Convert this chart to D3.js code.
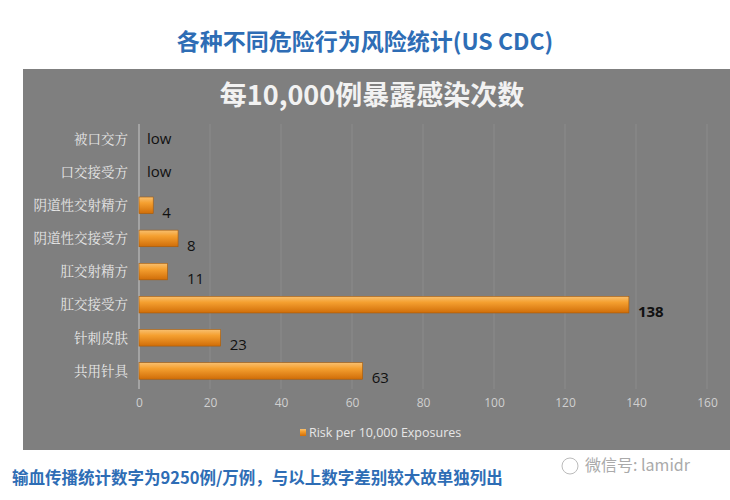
<!DOCTYPE html>
<html><head><meta charset="utf-8">
<script src="https://cdn.jsdelivr.net/npm/d3@7"></script>
<style>body{margin:0;background:#fff}</style></head>
<body><svg id="c" width="730" height="500"></svg>
<script>
const categories=["被口交方","口交接受方","阴道性交射精方","阴道性交接受方","肛交射精方","肛交接受方","针刺皮肤","共用针具"];
const values=[0,0,4,11,8,138,23,63];
const labelValues=[0,0,4,8,11,138,23,63];
const valueLabels=["low","low","4","8","11","138","23","63"];
const ticks=[0,20,40,60,80,100,120,140,160];
const svg=d3.select("#c");
const defs=svg.append("defs");
const g=defs.append("linearGradient").attr("id","bg").attr("x1",0).attr("y1",0).attr("x2",0).attr("y2",1);
g.append("stop").attr("offset","0").attr("stop-color","#f8c070");
g.append("stop").attr("offset","0.35").attr("stop-color","#f5a030");
g.append("stop").attr("offset","1").attr("stop-color","#d06d08");
svg.append("text").attr("x",365).attr("y",50).attr("text-anchor","middle")
 .attr("font-family","Noto Sans CJK SC").attr("font-weight","bold").attr("font-size",23).attr("fill","#2e6db5")
 .text("各种不同危险行为风险统计(US CDC)");
svg.append("rect").attr("x",23).attr("y",69).attr("width",707).attr("height",381).attr("fill","#7f7f7f");
svg.append("text").attr("x",372).attr("y",105).attr("text-anchor","middle")
 .attr("font-family","Noto Sans CJK SC").attr("font-weight","bold").attr("font-size",27).attr("fill","#f2f2f2").text("每10,000例暴露感染次数");
const x=d3.scaleLinear().domain([0,160]).range([139,707]);
const y=d3.scaleBand().domain(categories).range([122.5,387.5]).paddingInner(0.5).paddingOuter(0.25);
svg.append("g").selectAll("line").data(ticks.slice(1)).join("line")
 .attr("x1",d=>x(d)).attr("x2",d=>x(d)).attr("y1",124).attr("y2",389).attr("stroke","#8c8c8c");
svg.append("line").attr("x1",x(0)).attr("x2",x(0)).attr("y1",124).attr("y2",389).attr("stroke","#c8c8c8");
const ax=svg.append("g").attr("transform","translate(0,399)").call(d3.axisBottom(x).tickValues(ticks).tickSize(0).tickPadding(0));
ax.select(".domain").remove();
ax.selectAll("text").attr("font-family","Open Sans").attr("font-size",12).attr("fill","#d0d0d0").attr("dy","0.7em");
svg.append("g").selectAll("text").data(categories).join("text")
 .attr("x",128).attr("y",d=>y(d)+y.bandwidth()/2).attr("dy","0.35em").attr("text-anchor","end")
 .attr("font-family","Noto Serif CJK SC, Noto Sans CJK SC").attr("font-size",13.5).attr("fill","#e6e6e6").text(d=>d);
svg.append("g").selectAll("rect").data(values).join("rect")
 .attr("x",x(0)).attr("y",(d,i)=>y(categories[i])).attr("height",y.bandwidth())
 .attr("width",d=>x(d)-x(0)).attr("fill","url(#bg)").attr("stroke","#a85a08").attr("stroke-width",0.6);
svg.append("g").selectAll("text").data(labelValues).join("text")
 .attr("x",(d,i)=>d===0?x(0)+8:x(Math.max(d,values[i]))+9)
 .attr("y",(d,i)=>y(categories[i])+y.bandwidth()/2+(d===0?0:7)).attr("dy","0.35em")
 .attr("font-family","Open Sans").attr("font-size",15).attr("fill","#111")
 .attr("font-weight",(d,i)=>d===138?"bold":"normal")
 .text((d,i)=>valueLabels[i]);
svg.append("rect").attr("x",300).attr("y",429).attr("width",6).attr("height",7).attr("fill","url(#bg)");
svg.append("text").attr("x",309).attr("y",437).attr("font-family","Open Sans").attr("font-size",12.5).attr("fill","#e6e6e6").text("Risk per 10,000 Exposures");
svg.append("text").attr("x",12).attr("y",484).attr("font-family","Noto Sans CJK SC").attr("font-weight","bold").attr("font-size",16.5).attr("fill","#2e6db5")
 .text("输血传播统计数字为9250例/万例，与以上数字差别较大故单独列出");
svg.append("text").attr("x",585).attr("y",471).attr("font-family","Noto Sans CJK SC").attr("font-size",16).attr("fill","#aaa").text("微信号: lamidr");
svg.append("circle").attr("cx",570).attr("cy",466).attr("r",8).attr("fill","none").attr("stroke","#bbb");
</script></body></html>
